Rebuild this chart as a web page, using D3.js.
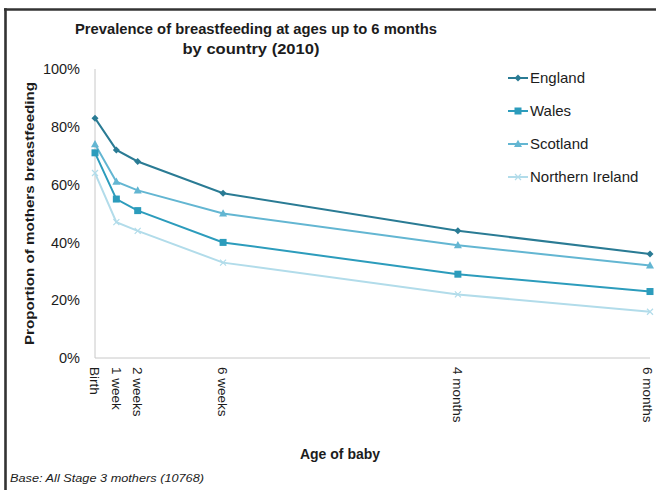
<!DOCTYPE html>
<html>
<head>
<meta charset="utf-8">
<script src="https://cdn.jsdelivr.net/npm/d3@7"></script>
<style>
  body { margin: 0; background: #fff; }
  text { font-family: "Liberation Sans", Arial, sans-serif; fill: #1c1c1c; }
</style>
</head>
<body>
<svg id="chart" width="656" height="490"></svg>
<script>
// ages in weeks, as placed along the x axis
const ages = [0, 1, 2, 6, 17, 26];
const ageLabels = ["Birth", "1 week", "2 weeks", "6 weeks", "4 months", "6 months"];
const yTicks = [0, 20, 40, 60, 80, 100];

const england = [83, 72, 68, 57, 44, 36];
const wales = [71, 55, 51, 40, 29, 23];
const scotland = [74, 61, 58, 50, 39, 32];
const northernIreland = [64, 47, 44, 33, 22, 16];

const series = [
  { name: "England", values: england, color: "#2a7b94", marker: "diamond" },
  { name: "Wales", values: wales, color: "#2c9cbc", marker: "square" },
  { name: "Scotland", values: scotland, color: "#63b6d2", marker: "triangle" },
  { name: "Northern Ireland", values: northernIreland, color: "#b2dcea", marker: "cross" }
];

const svg = d3.select("#chart");

// frame: top and left border only
svg.append("line").attr("x1", 4).attr("x2", 656).attr("y1", 9.5).attr("y2", 9.5)
  .attr("stroke", "#333").attr("stroke-width", 2.6);
svg.append("line").attr("x1", 5.5).attr("x2", 5.5).attr("y1", 8.2).attr("y2", 490)
  .attr("stroke", "#333").attr("stroke-width", 2.6);

const x = d3.scaleLinear().domain([0, 26]).range([95, 650]);
const y = d3.scaleLinear().domain([0, 100]).range([358, 69]);

// title
svg.append("text").attr("x", 256).attr("y", 33.5).attr("text-anchor", "middle")
  .attr("font-size", 15).attr("font-weight", "bold")
  .attr("textLength", 362).attr("lengthAdjust", "spacingAndGlyphs")
  .text("Prevalence of breastfeeding at ages up to 6 months");
svg.append("text").attr("x", 251).attr("y", 54).attr("text-anchor", "middle")
  .attr("font-size", 15).attr("font-weight", "bold")
  .attr("textLength", 137).attr("lengthAdjust", "spacingAndGlyphs")
  .text("by country (2010)");

// axes lines
svg.append("line").attr("x1", x(0)).attr("x2", x(0)).attr("y1", y(100)).attr("y2", y(0))
  .attr("stroke", "#c8c8c8").attr("stroke-width", 1);
svg.append("line").attr("x1", x(0)).attr("x2", x(26)).attr("y1", y(0)).attr("y2", y(0))
  .attr("stroke", "#c8c8c8").attr("stroke-width", 1);

// y ticks
svg.append("g").selectAll("text").data(yTicks).join("text")
  .attr("x", 80).attr("y", d => y(d)).attr("dy", "0.36em")
  .attr("text-anchor", "end").attr("font-size", 14.5)
  .text(d => d + "%");

// x ticks, rotated to read downwards
svg.append("g").selectAll("text").data(ages).join("text")
  .attr("transform", (d, i) => `translate(${Math.min(x(d), 648)},367) rotate(90)`)
  .attr("dy", "0.34em").attr("font-size", 13.5)
  .text((d, i) => ageLabels[i]);

// axis titles
svg.append("text").attr("transform", "translate(29,213.5) rotate(-90)")
  .attr("dy", "0.36em").attr("text-anchor", "middle")
  .attr("font-size", 13.5).attr("font-weight", "bold")
  .attr("textLength", 263).attr("lengthAdjust", "spacingAndGlyphs")
  .text("Proportion of mothers breastfeeding");
svg.append("text").attr("x", 340).attr("y", 459).attr("text-anchor", "middle")
  .attr("font-size", 14).attr("font-weight", "bold")
  .text("Age of baby");
svg.append("text").attr("x", 10).attr("y", 482)
  .attr("font-size", 11).attr("font-style", "italic")
  .attr("textLength", 194).attr("lengthAdjust", "spacingAndGlyphs")
  .text("Base: All Stage 3 mothers (10768)");

function drawMarker(g, type, color) {
  if (type === "diamond") {
    g.append("path").attr("d", "M0,-3.5L3.5,0L0,3.5L-3.5,0Z").attr("fill", color);
  } else if (type === "square") {
    g.append("rect").attr("x", -3.5).attr("y", -3.5).attr("width", 7).attr("height", 7).attr("fill", color);
  } else if (type === "triangle") {
    g.append("path").attr("d", "M0,-4.2L4,3L-4,3Z").attr("fill", color);
  } else {
    g.append("path").attr("d", "M-3,-3L3,3M-3,3L3,-3").attr("stroke", color).attr("stroke-width", 1.2);
  }
}

const line = d3.line().x((d, i) => x(ages[i])).y(d => y(d));

// draw back to front so England sits on top
series.slice().reverse().forEach(s => {
  svg.append("path").datum(s.values).attr("d", line)
    .attr("fill", "none").attr("stroke", s.color).attr("stroke-width", 2);
  s.values.forEach((v, i) => {
    const g = svg.append("g").attr("transform", `translate(${x(ages[i])},${y(v)})`);
    drawMarker(g, s.marker, s.color);
  });
});

// legend
const legend = svg.append("g");
series.forEach((s, i) => {
  const ly = 78 + i * 33;
  const g = legend.append("g").attr("transform", `translate(508,${ly})`);
  g.append("line").attr("x1", 0).attr("x2", 20).attr("stroke", s.color).attr("stroke-width", 2);
  drawMarker(g.append("g").attr("transform", "translate(10,0)"), s.marker, s.color);
  g.append("text").attr("x", 22).attr("dy", "0.36em").attr("font-size", 15)
    .text(s.name);
});
</script>
</body>
</html>
